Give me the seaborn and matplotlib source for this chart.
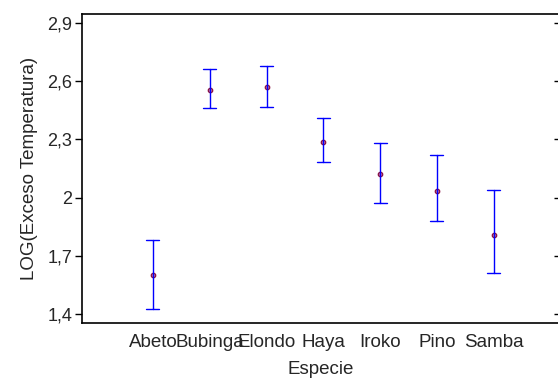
import matplotlib
matplotlib.use("Agg")
import matplotlib.pyplot as plt
import seaborn as sns
import pandas as pd

# Means and 95% interval limits of LOG(Exceso Temperatura) by species
especies = ["Abeto", "Bubinga", "Elondo", "Haya", "Iroko", "Pino", "Samba"]
medias = [1.599, 2.557, 2.571, 2.285, 2.120, 2.033, 1.808]
inferior = [1.425, 2.460, 2.468, 2.182, 1.971, 1.880, 1.614]
superior = [1.784, 2.663, 2.679, 2.408, 2.280, 2.218, 2.039]

y_ticks = [1.4, 1.7, 2.0, 2.3, 2.6, 2.9]
y_tick_labels = ["1,4", "1,7", "2", "2,3", "2,6", "2,9"]

# Long-form table: each species contributes its lower limit, mean and upper limit
rows = []
for esp, lo, m, hi in zip(especies, inferior, medias, superior):
    for v in (lo, m, hi):
        rows.append({"Especie": esp, "valor": v})
df = pd.DataFrame(rows)

sns.set_style("ticks")
plt.rcParams["font.family"] = ["Liberation Sans", "DejaVu Sans"]

fig = plt.figure(figsize=(5.58, 3.8), dpi=100)
ax = fig.add_axes([82 / 558, 57 / 380, 478 / 558, 309 / 380])

sns.pointplot(
    data=df, x="Especie", y="valor", order=especies,
    estimator="median", errorbar=lambda v: (v.min(), v.max()),
    linestyles="none", markers="o", capsize=0.23,
    color="#8b1040",
    err_kws={"color": "#0000ff", "linewidth": 1.0},
    markersize=3.2, markerfacecolor="#c070a0", markeredgecolor="#8b1040",
    markeredgewidth=0.9,
    ax=ax,
)

ax.set_xlim(-1.25, 7.17)
ax.set_ylim(1.354, 2.946)
ax.set_yticks(y_ticks)
ax.set_yticklabels(y_tick_labels)
ax.tick_params(axis="y", direction="out", length=5, width=1, color="black",
               pad=2, labelsize=13, right=True)
ax.tick_params(axis="x", length=0, pad=8, labelsize=13.5)

# right-side ticks point inward
for t in ax.yaxis.get_major_ticks():
    t.tick2line.set_marker(matplotlib.lines.TICKLEFT)
    t.tick2line.set_markersize(4)

for side in ("left", "top", "bottom", "right"):
    ax.spines[side].set_color("black")
    ax.spines[side].set_linewidth(1.2)

ax.set_xlabel("Especie", fontsize=13.5, labelpad=7)
ax.set_ylabel("LOG(Exceso Temperatura)", fontsize=13.5, labelpad=7)

fig.savefig("out.png", dpi=100)
